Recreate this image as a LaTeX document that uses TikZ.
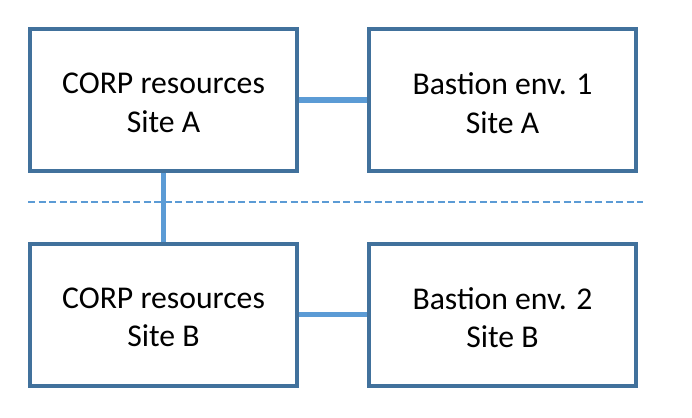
\documentclass[tikz,border=0pt]{standalone}
\usepackage{fontspec}
\setmainfont{Carlito}
\definecolor{boxblue}{HTML}{41719C}
\definecolor{linkblue}{HTML}{5B9BD5}
\begin{document}
\begin{tikzpicture}[x=1pt,y=-1pt,
  sitebox/.style={draw=boxblue, line width=4pt, fill=white, minimum width=267pt, minimum height=142pt, inner sep=0pt},
  sitetext/.style={align=center, inner sep=0pt, yshift=-3pt, font=\fontsize{31.7pt}{38.5pt}\selectfont},
  link/.style={draw=linkblue, line width=5pt},
  divider/.style={draw=linkblue, line width=1.2pt, dash pattern=on 7pt off 3.5pt}]
\useasboundingbox (0,0) rectangle (692,417);
\coordinate (dl) at (28,202);
\coordinate (dr) at (643,202);
\draw[divider] (dl) -- (dr);
\node[sitebox] (tl) at (163.5,100) {};
\node[sitebox] (tr) at (502.5,100) {};
\node[sitebox] (bl) at (163.5,314.5) {};
\node[sitebox] (br) at (502.5,314.5) {};
\node[sitetext] (tlt) at (tl.center) {CORP resources\\Site A};
\node[sitetext] (trt) at (tr.center) {Bastion env. 1\\Site A};
\node[sitetext] (blt) at (bl.center) {CORP resources\\Site B};
\node[sitetext] (brt) at (br.center) {Bastion env. 2\\Site B};
\draw[link] (tl.east) -- (tr.west);
\draw[link] (tl.south) -- (bl.north);
\draw[link] (bl.east) -- (br.west);
\end{tikzpicture}
\end{document}
